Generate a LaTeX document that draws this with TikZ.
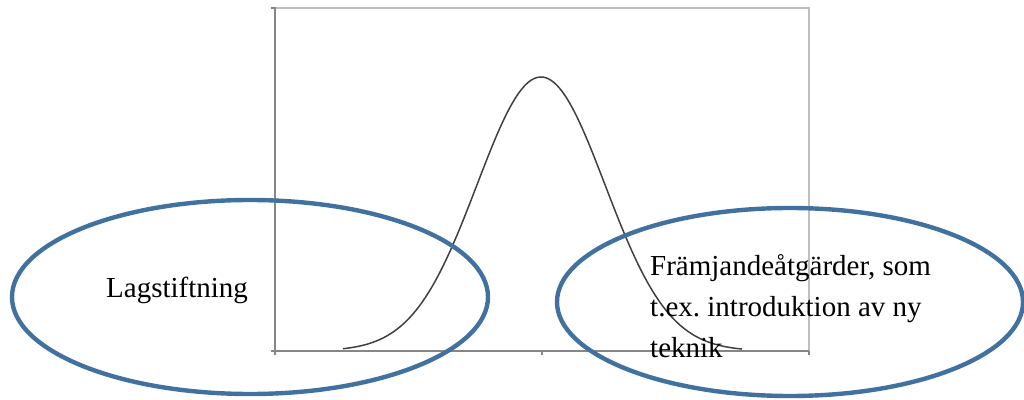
\documentclass[tikz,border=0pt]{standalone}
\usepackage{fontspec}
\setmainfont{Liberation Serif}
\frenchspacing
\definecolor{ellblue}{RGB}{65,113,158}
\definecolor{axisgray}{RGB}{134,134,134}
\definecolor{framegray}{RGB}{190,190,190}
\begin{document}
\begin{tikzpicture}[x=1pt,y=1pt,
  axisline/.style={draw=axisgray,line width=1.2pt},
  frameline/.style={draw=framegray,line width=1.2pt},
  bell/.style={draw=black!75,line width=1.5pt},
  blob/.style={draw=ellblue,line width=4.4pt},
  label/.style={font=\fontsize{29}{41}\selectfont,inner sep=0pt}]
\useasboundingbox (0,0) rectangle (1024,399);
% plot frame
\draw[frameline] (275,391) -- (809,391) -- (809,48);
\draw[axisline] (271,391) -- (275,391) -- (275,48) -- (809,48);
\foreach \t in {275,542,809} \draw[axisline] (\t,48) -- (\t,44);
\draw[axisline] (271,48) -- (275,48);
% bell curve
\draw[bell,smooth,samples=120,domain=343:742]
  plot (\x,{48+274*exp(-0.5*((\x-541)/64)^2)});
% ellipses
\draw[blob] (250,102) ellipse [x radius=238,y radius=97];
\draw[blob] (790,97) ellipse [x radius=233,y radius=94];
% labels
\node[label,anchor=base west] (lag) at (106,102) {Lagstiftning};
\node[label,anchor=base west,align=left] (fram) at (650,42)
  {Främjandeåtgärder, som\\t.ex. introduktion av ny\\teknik};
\end{tikzpicture}
\end{document}
